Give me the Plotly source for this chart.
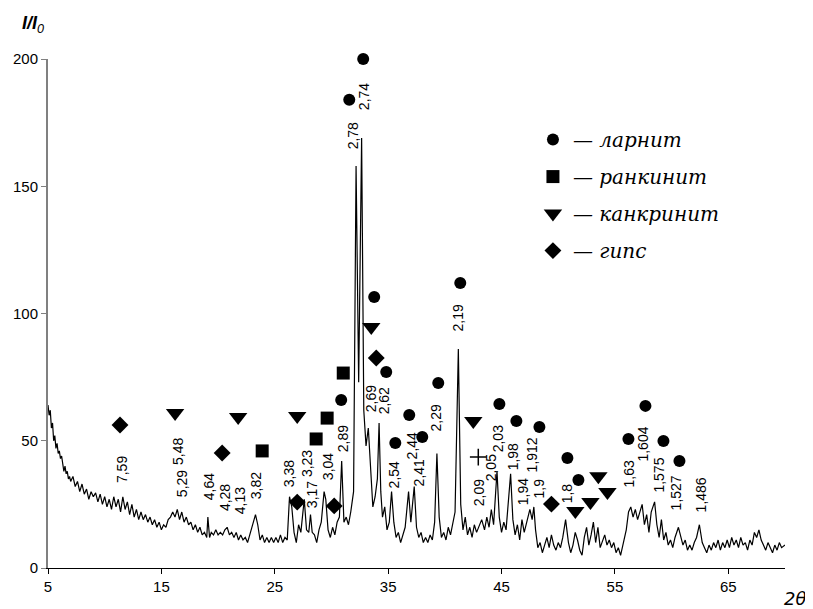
import plotly.graph_objects as go

# ---- diffraction pattern (2θ, I/I0) ----
two_theta = [
    5.0, 5.1, 5.2, 5.3, 5.4, 5.5, 5.6, 5.7, 5.8, 5.9, 6.0, 6.1, 6.2, 6.3, 6.4, 6.5, 6.6, 6.7, 6.8, 6.9,
    7.0, 7.2, 7.4, 7.6, 7.8, 8.0, 8.2, 8.4, 8.6, 8.8, 9.0, 9.2, 9.4, 9.6, 9.8, 10.0, 10.2, 10.4, 10.6, 10.8,
    11.0, 11.2, 11.4, 11.6, 11.8, 12.0, 12.2, 12.4, 12.6, 12.8, 13.0, 13.2, 13.4, 13.6, 13.8, 14.0, 14.2, 14.4,
    14.6, 14.8, 15.0, 15.2, 15.4, 15.6, 15.8, 16.0, 16.2, 16.4, 16.6, 16.8, 17.0, 17.2, 17.4, 17.6, 17.8, 18.0,
    18.2, 18.4, 18.6, 18.8, 19.0, 19.1, 19.25, 19.4, 19.6, 19.8, 20.0, 20.2, 20.4, 20.6, 20.8, 21.0, 21.2, 21.4,
    21.6, 21.8, 22.0, 22.2, 22.4, 22.6, 22.8, 23.0, 23.3, 23.5, 23.7, 23.9, 24.1, 24.3, 24.5, 24.7, 24.9, 25.1,
    25.3, 25.5, 25.7, 25.9, 26.1, 26.3, 26.5, 26.7, 26.9, 27.1, 27.3, 27.6, 27.8, 28.0, 28.15, 28.3, 28.5, 28.7,
    28.9, 29.1, 29.35, 29.5, 29.7, 29.9, 30.1, 30.3, 30.5, 30.7, 30.9, 31.1, 31.3, 31.5, 31.7, 31.95, 32.17, 32.4,
    32.66, 32.85, 33.05, 33.25, 33.45, 33.65, 33.85, 34.05, 34.2, 34.35, 34.5, 34.7, 34.9, 35.1, 35.3, 35.5, 35.7,
    35.9, 36.1, 36.3, 36.5, 36.8, 37.0, 37.3, 37.5, 37.7, 37.9, 38.1, 38.3, 38.5, 38.7, 38.9, 39.1, 39.3, 39.5,
    39.7, 39.9, 40.1, 40.3, 40.5, 40.7, 40.9, 41.19, 41.4, 41.6, 41.8, 42.0, 42.2, 42.4, 42.6, 42.8, 43.0, 43.25,
    43.5, 43.7, 43.9, 44.1, 44.3, 44.6, 44.8, 45.0, 45.2, 45.4, 45.8, 46.0, 46.2, 46.4, 46.6, 46.8, 47.0, 47.2,
    47.5, 47.7, 47.85, 48.0, 48.2, 48.4, 48.6, 48.8, 49.0, 49.2, 49.4, 49.6, 49.8, 50.0, 50.2, 50.4, 50.65, 50.9,
    51.1, 51.3, 51.5, 51.7, 51.9, 52.1, 52.3, 52.5, 52.7, 52.9, 53.1, 53.3, 53.5, 53.7, 53.9, 54.1, 54.3, 54.5,
    54.7, 54.9, 55.1, 55.3, 55.5, 55.7, 56.0, 56.2, 56.4, 56.6, 56.8, 57.0, 57.2, 57.4, 57.6, 57.8, 58.0, 58.2,
    58.5, 58.7, 58.9, 59.1, 59.3, 59.5, 59.7, 59.9, 60.1, 60.3, 60.6, 60.8, 61.0, 61.2, 61.4, 61.6, 61.8, 62.0,
    62.2, 62.45, 62.7, 62.9, 63.1, 63.3, 63.5, 63.7, 63.9, 64.1, 64.3, 64.5, 64.7, 64.9, 65.1, 65.3, 65.5, 65.7,
    65.9, 66.1, 66.3, 66.5, 66.7, 66.9, 67.1, 67.3, 67.5, 67.7, 67.9, 68.1, 68.3, 68.5, 68.7, 68.9, 69.1, 69.3,
    69.5, 69.7, 70.0,
]
intensity = [
    64, 60, 62, 55, 57, 50, 52, 47, 49, 45, 46, 43, 44, 41, 38, 40, 37, 38, 35, 36,
    34, 36, 32, 34, 30, 33, 29, 31, 27, 30, 28, 29.5, 26, 29, 25, 28, 24, 27, 23, 28,
    24, 27, 22, 28, 23, 26, 21, 25, 20, 23, 19, 22, 19, 21, 18, 20, 17, 19,
    16, 18, 15, 17, 16, 19, 20, 22, 20, 23, 19, 22, 18, 20, 17, 18, 15, 17,
    14, 16, 13, 14, 12, 20, 12, 14, 13, 15, 13, 14, 13, 15, 16, 13, 14, 12,
    14, 11, 13, 11, 12, 10, 13, 16, 21, 17, 11, 13, 10, 12, 10, 12, 10, 12,
    10, 13, 10, 12, 11, 28, 24, 14, 10, 17, 14, 27, 15, 14, 21, 14, 13, 10,
    15, 18, 30, 27, 15, 12, 16, 13, 18, 20, 42, 18, 20, 17, 22, 30, 158, 73,
    169, 62, 48, 55, 40, 24, 28, 35, 57, 30, 20, 24, 15, 18, 30, 18, 12,
    14, 10, 13, 16, 30, 18, 32, 16, 12, 14, 10, 12, 10, 13, 11, 18, 45, 20,
    12, 14, 11, 16, 13, 18, 22, 86, 25, 15, 20, 13, 16, 12, 17, 14, 16, 19,
    15, 20, 16, 23, 17, 38, 20, 14, 18, 15, 37, 19, 13, 17, 11, 19, 14, 18,
    23, 19, 24, 15, 8, 10, 6, 9, 12, 8, 13, 9, 7, 10, 8, 12, 19, 10,
    6, 9, 14, 11, 7, 5, 12, 16, 9, 13, 18, 10, 16, 8, 11, 13, 9, 11,
    8, 10, 6, 8, 5, 9, 15, 22, 24, 20, 23, 19, 22, 25, 17, 21, 14, 22,
    26, 17, 12, 19, 11, 14, 9, 11, 8, 12, 16, 12, 9, 11, 7, 9, 7, 10,
    12, 17, 10, 8, 6, 9, 7, 10, 8, 11, 7, 10, 8, 11, 8, 12, 9, 11,
    8, 12, 9, 10, 7, 11, 9, 14, 12, 15, 11, 9, 7, 10, 8, 6, 9, 7,
    10, 8, 9,
]

# ---- phase markers (2θ, I/I0) ----
larnite_x = [32.80, 31.57, 33.77, 41.36, 34.83, 30.86, 39.42, 36.86, 35.63, 38.01,
             44.81, 46.31, 48.34, 50.81, 51.78, 57.69, 56.19, 59.28, 60.69]
larnite_y = [200, 184, 106.5, 112, 77, 66, 72.7, 60.1, 49.1, 51.5,
             64.4, 57.8, 55.4, 43.2, 34.6, 63.7, 50.7, 49.9, 42]
rankinite_x = [31.04, 29.62, 28.65, 23.89]
rankinite_y = [76.6, 58.9, 50.7, 46]
cancrinite_x = [16.21, 21.77, 26.98, 33.51, 42.51, 51.51, 52.84, 53.54, 54.34]
cancrinite_y = [60.9, 59.3, 59.7, 94.7, 57.8, 22.4, 25.9, 36.1, 29.9]
gypsum_x = [11.35, 20.36, 26.98, 30.24, 33.95, 49.40]
gypsum_y = [56.2, 45.2, 25.9, 24.4, 82.5, 25.1]
cross_x = [42.95]
cross_y = [43.6]

# ---- d-spacing labels (text, 2θ, I/I0 of label centre) ----
d_labels = ["7,59", "5,48", "5,29", "4,64", "4,28", "4,13", "3,82", "3,38", "3,23", "3,17",
            "3,04", "2,89", "2,78", "2,74", "2,69", "2,62", "2,54", "2,44", "2,41", "2,29",
            "2,19", "2,09", "2,05", "2,03", "1,98", "1,94", "1,912", "1,9", "1,8", "1,63",
            "1,604", "1,575", "1,527", "1,486"]
d_x = [11.53, 16.47, 16.83, 19.21, 20.62, 21.95, 23.36, 26.27, 27.86, 28.30,
       29.71, 31.04, 31.92, 32.89, 33.51, 34.66, 35.54, 37.13, 37.75, 39.25,
       41.19, 43.04, 44.10, 44.72, 46.04, 46.92, 47.72, 48.34, 50.81, 56.28,
       57.52, 58.93, 60.34, 62.63]
d_y = [38.5, 45.6, 33.0, 31.8, 27.5, 26.3, 32.2, 36.9, 40.9, 28.7,
       39.7, 50.7, 169.7, 185.1, 66.4, 65.6, 36.5, 47.9, 37.3, 58.9,
       98.2, 29.5, 39.3, 50.7, 43.6, 29.9, 44.4, 31.4, 29.5, 36.9,
       48.7, 36.5, 29.5, 28.7]

x_ticks = [5, 15, 25, 35, 45, 55, 65]
y_ticks = [0, 50, 100, 150, 200]

fig = go.Figure()
fig.add_trace(go.Scatter(x=two_theta, y=intensity, mode="lines",
                         line=dict(color="black", width=1.2), showlegend=False,
                         hoverinfo="skip"))

phases = [
    ("— ларнит", larnite_x, larnite_y, "circle", 12),
    ("— ранкинит", rankinite_x, rankinite_y, "square", 13),
    ("— канкринит", cancrinite_x, cancrinite_y, "triangle-down", 16),
    ("— гипс", gypsum_x, gypsum_y, "diamond", 13),
]
for i, (name, xs, ys, sym, size) in enumerate(phases):
    fig.add_trace(go.Scatter(x=xs, y=ys, mode="markers", name=name,
                             marker=dict(symbol=sym, size=size, color="black"),
                             legendgroup=f"g{i}", cliponaxis=False))

fig.add_trace(go.Scatter(x=cross_x, y=cross_y, mode="markers", showlegend=False,
                         marker=dict(symbol="cross-thin-open", size=12, color="black",
                                     line=dict(color="black", width=1.5)),
                         cliponaxis=False))

for t, x, y in zip(d_labels, d_x, d_y):
    fig.add_annotation(x=x, y=y, text=t, textangle=-90, showarrow=False,
                       xanchor="center", yanchor="middle",
                       font=dict(family="Liberation Sans, Arial", size=14, color="black"))

fig.add_annotation(xref="paper", yref="paper", x=-0.038, y=1.095,
                   text="<b><i>I/I</i></b><i><sub>0</sub></i>", showarrow=False,
                   font=dict(family="Liberation Sans, Arial", size=18, color="black"))
fig.add_annotation(xref="paper", yref="paper", x=1.031, y=-0.085, xanchor="right",
                   text="<i>2θ</i>", showarrow=False,
                   font=dict(family="DejaVu Sans, Arial", size=18, color="black"))

# the page adds an 8 px body margin, so the figure is sized to fit inside the window
fig.update_layout(
    width=805, height=601,
    margin=dict(l=40, r=28, t=51, b=41),
    paper_bgcolor="white", plot_bgcolor="white",
    font=dict(family="Liberation Sans, Arial", size=15, color="black"),
    legend=dict(x=0.658, y=0.88, xanchor="left", yanchor="top",
                font=dict(family="DejaVu Serif", size=20, color="black", style="italic"),
                tracegroupgap=8, bgcolor="rgba(0,0,0,0)"),
    xaxis=dict(range=[5, 70], tickvals=x_ticks, showgrid=False, zeroline=False,
               showline=True, linecolor="black", linewidth=1, automargin=False,
               ticks="outside", ticklen=5, tickcolor="black"),
    yaxis=dict(range=[0, 200], tickvals=y_ticks, showgrid=False, zeroline=False,
               showline=True, linecolor="#808080", linewidth=2, automargin=False,
               ticks="outside", ticklen=5, tickcolor="#808080"),
)

fig.write_html("out.html")
